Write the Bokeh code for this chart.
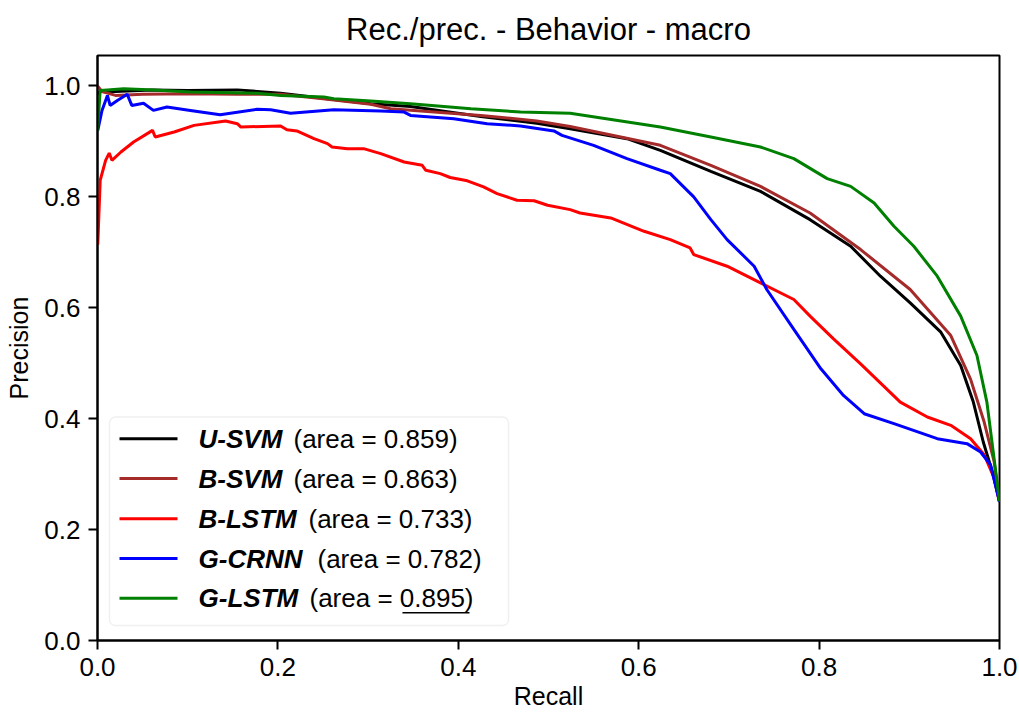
from bokeh.plotting import figure
from bokeh.models import Range1d, FixedTicker, NumeralTickFormatter, BoxAnnotation, ColumnDataSource
from bokeh.core.properties import value
from bokeh.embed import file_html
from bokeh.resources import INLINE

FONT = "Liberation Sans"

# ---------------- data ----------------
usvm_recall = [0.0, 0.003, 0.02, 0.06, 0.10, 0.155, 0.203, 0.25, 0.303, 0.347, 0.425, 0.487,
               0.524, 0.587, 0.624, 0.68, 0.735, 0.79, 0.835, 0.868, 0.901, 0.935, 0.957,
               0.971, 0.982, 0.993, 1.0]
usvm_prec = [0.985, 0.99, 0.99, 0.993, 0.992, 0.993, 0.987, 0.978, 0.968, 0.963, 0.945, 0.933,
             0.923, 0.905, 0.884, 0.846, 0.81, 0.759, 0.711, 0.657, 0.609, 0.556, 0.496,
             0.43, 0.358, 0.299, 0.251]

bsvm_recall = [0.0, 0.005, 0.02, 0.05, 0.10, 0.155, 0.203, 0.25, 0.303, 0.325, 0.425, 0.487,
               0.524, 0.624, 0.68, 0.735, 0.79, 0.846, 0.901, 0.946, 0.968, 0.983, 0.994, 1.0]
bsvm_prec = [1.0, 0.99, 0.983, 0.985, 0.986, 0.985, 0.985, 0.977, 0.967, 0.959, 0.947, 0.937,
             0.927, 0.893, 0.857, 0.819, 0.771, 0.705, 0.633, 0.55, 0.471, 0.394, 0.323, 0.25]

blstm_recall = [0.0003, 0.003, 0.009, 0.013, 0.016, 0.026, 0.04, 0.061, 0.064, 0.085, 0.107,
                0.142, 0.155, 0.159, 0.203, 0.21, 0.221, 0.24, 0.255, 0.26, 0.277, 0.295,
                0.314, 0.34, 0.36, 0.364, 0.38, 0.391, 0.41, 0.428, 0.443, 0.465, 0.484,
                0.499, 0.524, 0.535, 0.569, 0.606, 0.635, 0.657, 0.661, 0.698, 0.735, 0.772,
                0.79, 0.816, 0.846, 0.89, 0.92, 0.946, 0.968, 0.983, 0.994, 1.0]
blstm_prec = [0.714, 0.83, 0.866, 0.879, 0.866, 0.881, 0.899, 0.92, 0.908, 0.917, 0.929,
              0.937, 0.932, 0.926, 0.928, 0.921, 0.919, 0.905, 0.896, 0.89, 0.887, 0.887,
              0.878, 0.863, 0.857, 0.848, 0.842, 0.835, 0.829, 0.818, 0.806, 0.794, 0.793,
              0.785, 0.777, 0.771, 0.762, 0.738, 0.723, 0.708, 0.696, 0.675, 0.645, 0.615,
              0.585, 0.544, 0.499, 0.43, 0.403, 0.388, 0.364, 0.335, 0.293, 0.25]

gcrnn_recall = [0.0003, 0.005, 0.011, 0.014, 0.022, 0.033, 0.038, 0.051, 0.062, 0.077, 0.103,
                0.136, 0.177, 0.192, 0.214, 0.262, 0.314, 0.34, 0.347, 0.395, 0.432, 0.469,
                0.506, 0.515, 0.55, 0.587, 0.624, 0.635, 0.661, 0.68, 0.698, 0.728, 0.742,
                0.772, 0.802, 0.827, 0.85, 0.883, 0.931, 0.964, 0.979, 0.99, 1.0]
gcrnn_prec = [0.92, 0.956, 0.983, 0.965, 0.974, 0.985, 0.965, 0.969, 0.956, 0.962, 0.956,
              0.948, 0.958, 0.957, 0.951, 0.957, 0.955, 0.953, 0.947, 0.941, 0.932, 0.928,
              0.919, 0.911, 0.893, 0.869, 0.848, 0.842, 0.8, 0.759, 0.723, 0.675, 0.633,
              0.561, 0.49, 0.442, 0.409, 0.391, 0.364, 0.355, 0.34, 0.317, 0.25]

glstm_recall = [0.0, 0.003, 0.011, 0.029, 0.063, 0.103, 0.177, 0.203, 0.251, 0.262, 0.303,
                0.347, 0.414, 0.469, 0.524, 0.624, 0.68, 0.735, 0.772, 0.809, 0.835, 0.861,
                0.883, 0.905, 0.931, 0.957, 0.975, 0.986, 1.0]
glstm_prec = [0.92, 0.992, 0.993, 0.995, 0.993, 0.989, 0.987, 0.983, 0.98, 0.977, 0.973,
              0.968, 0.959, 0.953, 0.951, 0.926, 0.908, 0.89, 0.869, 0.833, 0.819, 0.789,
              0.747, 0.711, 0.657, 0.585, 0.514, 0.43, 0.251]

model_names = ["U-SVM", "B-SVM", "B-LSTM", "G-CRNN", "G-LSTM"]
model_areas = ["0.859", "0.863", "0.733", "0.782", "0.895"]
model_colors = ["black", "#a52a2a", "red", "blue", "green"]
tick_values = [0.0, 0.2, 0.4, 0.6, 0.8, 1.0]

series = [(usvm_recall, usvm_prec), (bsvm_recall, bsvm_prec), (blstm_recall, blstm_prec),
          (gcrnn_recall, gcrnn_prec), (glstm_recall, glstm_prec)]

# ---------------- figure ----------------
p = figure(width=1019, height=713, x_range=Range1d(0, 1), y_range=Range1d(0, 1.055),
           output_backend="svg", toolbar_location=None,
           min_border_left=97, min_border_right=20, min_border_top=52, min_border_bottom=73,
           title="Rec./prec. - Behavior - macro")
p.background_fill_color = "white"
p.border_fill_color = "white"
p.outline_line_color = "black"
p.outline_line_width = 2
p.xgrid.visible = False
p.ygrid.visible = False

p.title.text_font = FONT
p.title.text_font_size = "31px"
p.title.text_font_style = "normal"
p.title.align = "center"
p.title.text_color = "black"
p.title.standoff = 18

for ax in (p.xaxis[0], p.yaxis[0]):
    ax.ticker = FixedTicker(ticks=tick_values)
    ax.formatter = NumeralTickFormatter(format="0.0")
    ax.axis_line_width = 2
    ax.axis_line_color = "black"
    ax.major_tick_line_width = 2
    ax.major_tick_line_color = "black"
    ax.major_tick_out = 9
    ax.major_tick_in = 0
    ax.minor_tick_line_color = None
    ax.major_label_text_font = FONT
    ax.major_label_text_font_size = "26px"
    ax.major_label_text_color = "black"
    ax.axis_label_text_font = FONT
    ax.axis_label_text_font_size = "25px"
    ax.axis_label_text_font_style = "normal"
    ax.axis_label_text_color = "black"

p.xaxis.axis_label = "Recall"
p.yaxis.axis_label = "Precision"
p.xaxis.major_label_standoff = 8
p.xaxis.axis_label_standoff = 3
p.yaxis.major_label_standoff = 8
p.yaxis.axis_label_standoff = 8

for (xs, ys), c in zip(series, model_colors):
    p.line(xs, ys, line_color=c, line_width=3)

# ---------------- legend (drawn by hand for mixed font styles) ----------------
box = BoxAnnotation(left=0.0133, right=0.4557, top=0.4032, bottom=0.0269,
                    fill_color="white", fill_alpha=0.8, line_color="#cccccc",
                    line_width=1.5, border_radius=6, level="underlay")
p.add_layout(box)

row_y = [0.3638, 0.2921, 0.2195, 0.1478, 0.0762]
rest_x = [0.2173, 0.2173, 0.2339, 0.2439, 0.2350]
leg = ColumnDataSource(dict(
    x0=[0.0244] * 5, x1=[0.0887] * 5, y=row_y, color=model_colors,
    name=model_names, name_x=[0.112] * 5,
    rest=["(area = %s)" % a for a in model_areas], rest_x=rest_x))
p.segment(x0="x0", y0="y", x1="x1", y1="y", line_color="color", line_width=3, source=leg)
p.text(x="name_x", y="y", text="name", source=leg, text_font=value(FONT),
       text_font_size="26px", text_font_style="bold italic", text_baseline="middle",
       text_align="left", text_color="black")
p.text(x="rest_x", y="y", text="rest", source=leg, text_font=value(FONT),
       text_font_size="26px", text_font_style="normal", text_baseline="middle",
       text_align="left", text_color="black")
# underline of the best area value
p.segment(x0=[0.3381], y0=[0.0502], x1=[0.4124], y1=[0.0502], line_color="black", line_width=1.5)

open("out.html", "w").write(file_html(p, INLINE))
